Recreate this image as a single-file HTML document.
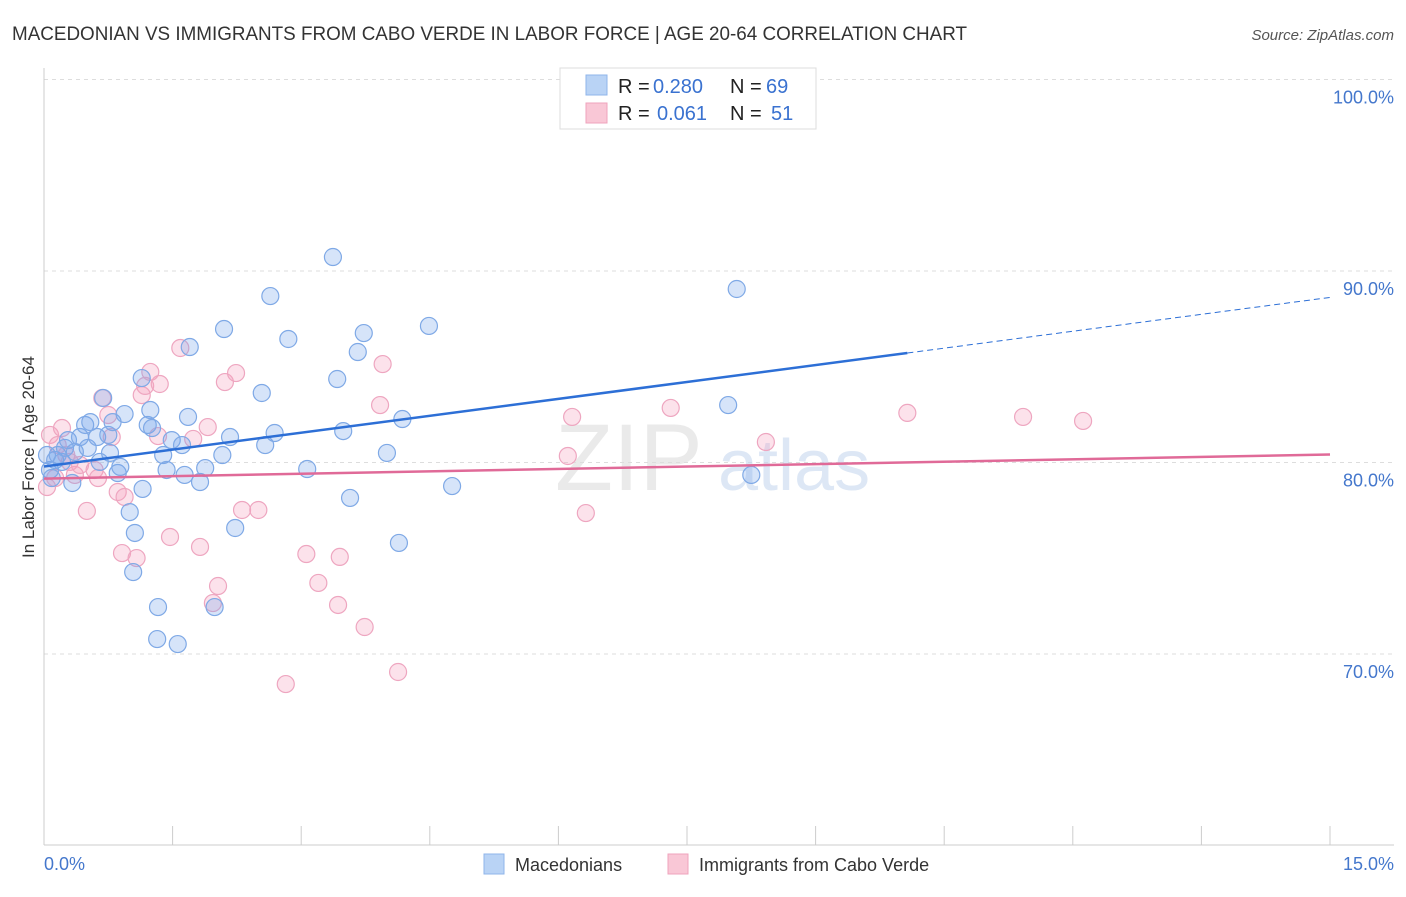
<!DOCTYPE html>
<html><head><meta charset="utf-8"><style>
body{margin:0;background:#fff;font-family:"Liberation Sans",sans-serif}
svg text{font-family:"Liberation Sans",sans-serif}
</style></head><body>
<svg width="1406" height="892" xmlns="http://www.w3.org/2000/svg">
<text x="12" y="40" font-size="19" fill="#333" textLength="955" lengthAdjust="spacingAndGlyphs">MACEDONIAN VS IMMIGRANTS FROM CABO VERDE IN LABOR FORCE | AGE 20-64 CORRELATION CHART</text>
<text x="1394" y="40" font-size="15" fill="#555" font-style="italic" text-anchor="end">Source: ZipAtlas.com</text>
<g id="grid"></g>
<text x="555" y="490" font-size="95" fill="#ddd" font-family="Liberation Serif" opacity="0.6">ZIP</text>
<text x="718" y="490" font-size="72" fill="#c8d8ef" opacity="0.6">atlas</text>
<line x1="44" y1="68" x2="44" y2="845" stroke="#ccc"/>
<line x1="44" y1="845" x2="1394" y2="845" stroke="#ccc"/>
<g id="xticks"></g>
<g id="pts"></g>
<g id="trends"></g>
<text transform="translate(34,457) rotate(-90)" font-size="17" fill="#333" text-anchor="middle">In Labor Force | Age 20-64</text>
<text x="44" y="870" font-size="18" fill="#4477cc">0.0%</text>
<text x="1394" y="870" font-size="18" fill="#4477cc" text-anchor="end">15.0%</text>
<g>
<rect x="560" y="68" width="256" height="61" fill="#fff" stroke="#ddd"/>
<rect x="586" y="75" width="21" height="20" fill="#b9d3f5" stroke="#8fb4ea"/>
<rect x="586" y="103" width="21" height="20" fill="#f9c7d6" stroke="#efa3bc"/>
<text x="618" y="93" font-size="20" fill="#222">R =</text>
<text x="653" y="93" font-size="20" fill="#3a72d0">0.280</text>
<text x="730" y="93" font-size="20" fill="#222">N =</text>
<text x="766" y="93" font-size="20" fill="#3a72d0">69</text>
<text x="618" y="120" font-size="20" fill="#222">R =</text>
<text x="657" y="120" font-size="20" fill="#3a72d0">0.061</text>
<text x="730" y="120" font-size="20" fill="#222">N =</text>
<text x="771" y="120" font-size="20" fill="#3a72d0">51</text>
</g>
<g>
<rect x="484" y="854" width="20" height="20" fill="#b9d3f5" stroke="#8fb4ea"/>
<text x="515" y="871" font-size="18" fill="#333">Macedonians</text>
<rect x="668" y="854" width="20" height="20" fill="#f9c7d6" stroke="#efa3bc"/>
<text x="699" y="871" font-size="18" fill="#333">Immigrants from Cabo Verde</text>
</g>
</svg>
<script>
const yTicks=[100,90,80,70];
const yTickLabels=["100.0%","90.0%","80.0%","70.0%"];
const blueX=[0.035,0.07,0.09,0.13,0.16,0.21,0.245,0.28,0.33,0.36,0.42,0.48,0.51,0.54,0.62,0.65,0.69,0.75,0.77,0.80,0.86,0.89,0.94,1.00,1.04,1.06,1.14,1.15,1.21,1.24,1.26,1.32,1.33,1.39,1.43,1.49,1.56,1.61,1.64,1.68,1.70,1.82,1.88,1.99,2.08,2.10,2.17,2.23,2.54,2.58,2.64,2.69,2.85,3.07,3.37,3.42,3.49,3.57,3.66,3.73,4.00,4.14,4.18,4.49,4.76,7.98,8.08,8.25];
const blueY=[80.39,79.61,79.19,80.13,80.39,80.03,80.76,81.17,78.93,80.55,81.33,81.96,80.76,82.11,81.33,80.03,83.37,81.44,80.50,82.11,79.45,79.77,82.53,77.41,74.28,76.32,84.41,78.62,81.96,82.74,81.80,70.78,72.45,80.39,79.61,81.17,70.52,80.91,79.35,82.38,86.03,78.98,79.71,72.45,80.39,86.97,81.33,76.58,83.63,80.91,88.69,81.54,86.45,79.66,90.73,84.36,81.64,78.15,85.77,86.76,80.50,75.80,82.27,87.13,78.77,83.00,89.06,79.35];
const pinkX=[0.035,0.07,0.13,0.16,0.21,0.26,0.30,0.36,0.42,0.50,0.59,0.63,0.68,0.75,0.79,0.86,0.91,0.94,1.08,1.14,1.18,1.24,1.33,1.35,1.47,1.59,1.74,1.82,1.91,1.97,2.03,2.11,2.24,2.31,2.50,2.82,3.06,3.20,3.43,3.45,3.74,3.92,3.95,4.13,6.11,6.16,6.32,7.31,8.42,10.07,11.42,12.12];
const pinkY=[78.72,81.44,79.19,80.91,81.80,80.39,80.03,79.35,79.87,77.47,79.61,79.19,83.37,82.48,81.33,78.46,75.27,78.20,75.01,83.52,84.00,84.73,81.38,84.10,76.11,85.98,81.23,75.59,81.85,72.66,73.55,84.20,84.67,77.52,77.52,68.43,75.22,73.71,72.56,75.07,71.41,83.00,85.14,69.06,80.34,82.38,77.36,82.85,81.07,82.59,82.38,82.17];
const blueTrend=[79.79,88.62];
const blueSolidEnd=10.07;
const pinkTrend=[79.16,80.42];
const NS="http://www.w3.org/2000/svg";
const xs=v=>44+v*(1286/15);
const ys=v=>79.5+(100-v)*19.15;
function mk(tag,attrs,parent){const e=document.createElementNS(NS,tag);for(const k in attrs)e.setAttribute(k,attrs[k]);parent.appendChild(e);return e;}
const grid=document.getElementById('grid');
yTicks.forEach((t,i)=>{
 const l=mk('line',{x1:44,x2:1394,y1:ys(t),y2:ys(t),stroke:'#ddd','stroke-dasharray':'4 4'},grid);
 
 
 const tx=mk('text',{x:1394,y:ys(t)+24,'font-size':18,fill:'#4477cc','text-anchor':'end'},grid);
 tx.textContent=yTickLabels[i];
 
 
});
const xt=document.getElementById('xticks');
for(let i=0;i<=10;i++){const l=mk('line',{x1:xs(i*1.5),x2:xs(i*1.5),y1:826,y2:845,stroke:'#ccc'},xt);
 
 }
const pts=document.getElementById('pts');
pinkX.forEach((x,i)=>{const c=mk('circle',{cx:xs(x),cy:ys(pinkY[i]),r:8.5,fill:'rgba(244,160,190,0.3)',stroke:'#eea6c0','stroke-width':1.2},pts);
 
 });
blueX.forEach((x,i)=>{const c=mk('circle',{cx:xs(x),cy:ys(blueY[i]),r:8.5,fill:'rgba(120,165,235,0.3)',stroke:'#7fa9e6','stroke-width':1.2},pts);
 
 });
const tr=document.getElementById('trends');
const by=x=>blueTrend[0]+(blueTrend[1]-blueTrend[0])*x/15;
let a=mk('line',{x1:xs(0),y1:ys(by(0)),x2:xs(blueSolidEnd),y2:ys(by(blueSolidEnd)),stroke:'#2d6fd6','stroke-width':2.5},tr);


let b=mk('line',{x1:xs(blueSolidEnd),y1:ys(by(blueSolidEnd)),x2:xs(15),y2:ys(by(15)),stroke:'#2d6fd6','stroke-width':1,'stroke-dasharray':'6 4'},tr);


let c=mk('line',{x1:xs(0),y1:ys(pinkTrend[0]),x2:xs(15),y2:ys(pinkTrend[1]),stroke:'#e06a98','stroke-width':2.5},tr);


</script>
</body></html>
